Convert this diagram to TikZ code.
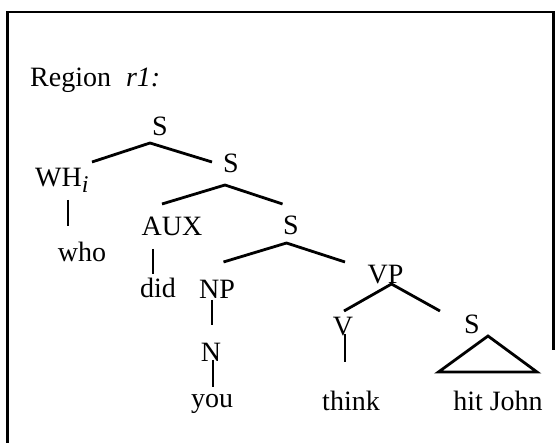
\documentclass[tikz,border=0pt]{standalone}
\usepackage{fontspec}
\setmainfont{Liberation Serif}
\usepackage{tikz}

\tikzset{
  lbl/.style={anchor=base, inner sep=0pt, font=\fontsize{28}{32}\selectfont},
  branch/.style={line width=2.8pt},
  frame/.style={line width=2.5pt}
}
\newcommand{\subi}{\raisebox{-6pt}{\fontsize{24}{26}\selectfont\textit{i}}}

\begin{document}
\begin{tikzpicture}[x=1pt,y=-1pt]
\useasboundingbox (0,0) rectangle (557,443);
%%Frame
\draw[frame] (7.5,443) -- (7.5,12) -- (553.5,12) -- (553.5,350);

\node[lbl, anchor=base west] (title) at (30,87) {Region\hspace{15pt}\textit{r1:}};

%%Labels
\node[lbl] (s1) at (160,136) {S};
\node[lbl, anchor=base west] (wh) at (35,187) {WH\subi};
\node[lbl] (who) at (82,262) {who};
\node[lbl] (s2) at (231,173) {S};
\node[lbl] (aux) at (172,236) {AUX};
\node[lbl] (did) at (158,298) {did};
\node[lbl] (s3) at (291,235) {S};
\node[lbl] (np) at (217,299) {NP};
\node[lbl] (n) at (211,362) {N};
\node[lbl] (you) at (212,408) {you};
\node[lbl] (vp) at (385.5,284) {VP};
\node[lbl] (v) at (343,336) {V};
\node[lbl] (think) at (351,410) {think};
\node[lbl] (s4) at (472,334) {S};
\node[lbl] (hj) at (498,410) {hit John};

%%Branch points
\coordinate (s1a) at (150,143);
\coordinate (s1l) at (92,162);
\coordinate (s1r) at (212,162);
\coordinate (s2a) at (225,185);
\coordinate (s2l) at (162,204);
\coordinate (s2r) at (282.5,204);
\coordinate (s3a) at (286.5,243);
\coordinate (s3l) at (223.5,262);
\coordinate (s3r) at (345,262);
\coordinate (vpa) at (391.5,284);
\coordinate (vpl) at (344,311);
\coordinate (vpr) at (440,311);
\coordinate (wht) at (68,200);
\coordinate (whb) at (68,226);
\coordinate (auxt) at (153,249);
\coordinate (auxb) at (153,274);
\coordinate (npt) at (212,300);
\coordinate (npb) at (212,325);
\coordinate (nt) at (213,360);
\coordinate (nb) at (213,387);
\coordinate (vt) at (345,334);
\coordinate (vb) at (345,362);
\coordinate (tria) at (488,336);
\coordinate (tril) at (438.5,372);
\coordinate (trir) at (537,372);

%%Branches
\draw[branch] (s1l) -- (s1a) -- (s1r);
\draw[branch] (s2l) -- (s2a) -- (s2r);
\draw[branch] (s3l) -- (s3a) -- (s3r);
\draw[branch] (vpl) -- (vpa) -- (vpr);
\draw[branch] (wht) -- (whb);
\draw[branch] (auxt) -- (auxb);
\draw[branch] (npt) -- (npb);
\draw[branch] (nt) -- (nb);
\draw[branch] (vt) -- (vb);
\draw[branch] (tria) -- (trir) -- (tril) -- cycle;

\end{tikzpicture}
\end{document}
